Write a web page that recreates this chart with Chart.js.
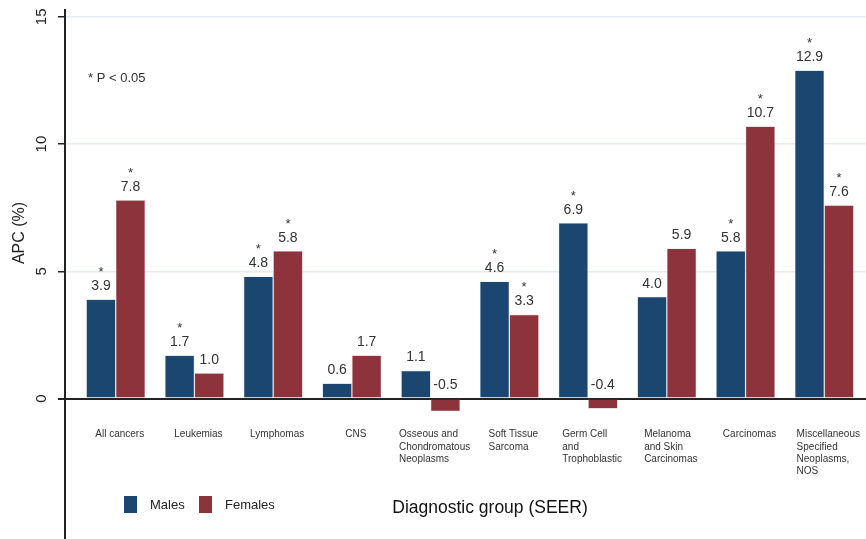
<!DOCTYPE html>
<html>
<head>
<meta charset="utf-8">
<script src="https://cdn.jsdelivr.net/npm/chart.js@4/dist/chart.umd.min.js"></script>
<style>
  html, body { margin: 0; padding: 0; background: #fff; }
  #wrap { width: 866px; height: 539px; position: relative; }
</style>
</head>
<body>
<div id="wrap"><canvas id="apcChart"></canvas></div>
<script>
// data
const categories = [
    ['All cancers'],
    ['Leukemias'],
    ['Lymphomas'],
    ['CNS'],
    ['Osseous and', 'Chondromatous', 'Neoplasms'],
    ['Soft Tissue', 'Sarcoma'],
    ['Germ Cell', 'and', 'Trophoblastic'],
    ['Melanoma', 'and Skin', 'Carcinomas'],
    ['Carcinomas'],
    ['Miscellaneous', 'Specified', 'Neoplasms,', 'NOS']
];
const malesAPC   = [3.9, 1.7, 4.8, 0.6, 1.1, 4.6, 6.9, 4.0, 5.8, 12.9];
const femalesAPC = [7.8, 1.0, 5.8, 1.7, -0.5, 3.3, -0.4, 5.9, 10.7, 7.6];
// 1 = significant (P < 0.05), marked with a star
const malesSig   = [1, 1, 1, 0, 0, 1, 1, 0, 1, 1];
const femalesSig = [1, 0, 1, 0, 0, 1, 0, 0, 1, 1];
const yTicks = [0, 5, 10, 15];

const FONT = '"Liberation Sans", Arial, sans-serif';
const TXT = '#333';

// everything that Chart.js won't draw the way Stata did
const annotations = {
    id: 'annotations',
    afterDraw(chart) {
        const c = chart.ctx;
        const y = chart.scales.y;
        const x = chart.scales.x;
        const zeroY = y.getPixelForValue(0);
        c.save();

        // y tick labels, rotated
        c.fillStyle = '#222';
        c.font = '15px ' + FONT;
        c.textAlign = 'center';
        c.textBaseline = 'middle';
        yTicks.forEach(v => {
            c.save();
            c.translate(42, y.getPixelForValue(v));
            c.rotate(-Math.PI / 2);
            c.fillText(String(v), 0, 0);
            c.restore();
        });

        // y title
        c.save();
        c.translate(20, 233);
        c.rotate(-Math.PI / 2);
        c.font = '16px ' + FONT;
        c.fillText('APC (%)', 0, 0);
        c.restore();

        // category labels: block centred on the group, lines left aligned
        c.font = '10px ' + FONT;
        c.fillStyle = TXT;
        c.textAlign = 'left';
        categories.forEach((lines, i) => {
            const w = Math.max(...lines.map(s => c.measureText(s).width));
            const left = x.getPixelForValue(i) - w / 2 + 4;
            lines.forEach((s, k) => c.fillText(s, left, zeroY + 36 + k * 12.3));
        });

        // value labels + stars
        const sig = [malesSig, femalesSig];
        chart.data.datasets.forEach((ds, di) => {
            const meta = chart.getDatasetMeta(di);
            meta.data.forEach((bar, i) => {
                const v = ds.data[i].y;
                const top = y.getPixelForValue(Math.max(v, 0));
                c.fillStyle = TXT;
                c.font = '14px ' + FONT;
                c.textAlign = 'center';
                c.fillText(v.toFixed(1), bar.x, top - 13);
                if (sig[di][i]) {
                    c.font = '13px ' + FONT;
                    c.fillText('*', bar.x, top - 27);
                }
            });
        });

        // significance note
        c.font = '13px ' + FONT;
        c.textAlign = 'left';
        c.fillStyle = TXT;
        c.fillText('* P < 0.05', 88, 78);

        // legend
        let lx = 124;
        c.font = '13px ' + FONT;
        chart.data.datasets.forEach(ds => {
            c.fillStyle = ds.backgroundColor;
            c.fillRect(lx, 496, 13, 17);
            c.fillStyle = '#222';
            c.fillText(ds.label, lx + 26, 505);
            lx += 75;
        });

        // x title
        c.font = '17.5px ' + FONT;
        c.textAlign = 'center';
        c.fillStyle = '#111';
        c.fillText('Diagnostic group (SEER)', 490, 508);

        c.restore();
    }
};

const ctx = document.getElementById('apcChart').getContext('2d');
const apcChart = new Chart(ctx, {
    type: 'bar',
    data: {
        datasets: [
            {
                label: 'Males',
                data: malesAPC.map((v, i) => ({ x: i, y: v })),
                backgroundColor: '#1b4670',
                borderColor: '#c9d4e0',
                borderWidth: 0.6
            },
            {
                label: 'Females',
                data: femalesAPC.map((v, i) => ({ x: i, y: v })),
                backgroundColor: '#8c333c',
                borderColor: '#e0c8cb',
                borderWidth: 0.6
            }
        ]
    },
    options: {
        responsive: true,
        maintainAspectRatio: false,
        animation: false,
        layout: { padding: { top: 10, left: 0, right: 0, bottom: 0 } },
        categoryPercentage: 0.75,
        barPercentage: 1,
        plugins: {
            legend: { display: false },
            tooltip: { enabled: false }
        },
        scales: {
            x: {
                type: 'linear',
                min: -0.644,
                max: 9.53,
                offset: false,
                display: false
            },
            y: {
                min: -5.52,
                max: 15.27,
                afterFit: s => { s.width = 65; },
                afterBuildTicks: s => { s.ticks = yTicks.map(v => ({ value: v })); },
                ticks: { display: false },
                border: { display: true, color: '#222', width: 2 },
                grid: {
                    color: c => (c.tick && c.tick.value === 0) ? '#222' : '#e4ecf3',
                    lineWidth: c => (c.tick && c.tick.value === 0) ? 2 : 1.5,
                    tickColor: '#222',
                    tickLength: 7
                }
            }
        }
    },
    plugins: [annotations]
});
</script>
</body>
</html>
